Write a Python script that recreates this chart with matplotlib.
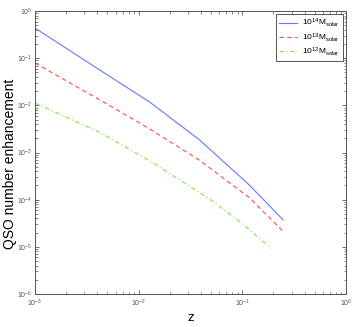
import numpy as np
import matplotlib
matplotlib.use('Agg')
import matplotlib.pyplot as plt
from matplotlib.ticker import LogLocator, NullFormatter

plt.rcParams['font.family'] = ['Liberation Sans', 'DejaVu Sans']
plt.rcParams['mathtext.fontset'] = 'custom'
plt.rcParams['mathtext.rm'] = 'Liberation Sans'
plt.rcParams['mathtext.it'] = 'Liberation Sans'

# values
z_14 = [1e-3, 3.94e-3, 1.276e-2, 3.86e-2, 0.1167, 0.248]
y_14 = [0.437, 0.0619, 0.0118, 1.86e-3, 2.06e-4, 3.73e-5]
z_13 = [1e-3, 4.41e-3, 1.276e-2, 3.86e-2, 0.1167, 0.243]
y_13 = [0.0791, 0.0124, 3.18e-3, 6.89e-4, 1.11e-4, 2.22e-5]
z_12 = [1e-3, 4.22e-3, 1.276e-2, 4.82e-2, 9.77e-2, 0.19]
y_12 = [0.01125, 2.67e-3, 6.68e-4, 1.04e-4, 3.24e-5, 9.3e-6]
labels = [r'$10^{14}$M$_{\rm solar}$', r'$10^{13}$M$_{\rm solar}$', r'$10^{12}$M$_{\rm solar}$']

fig = plt.figure(figsize=(3.54, 3.27), dpi=100)
ax = fig.add_axes([0.099, 0.101, 0.878, 0.865])

ax.loglog(z_14, y_14, '-', color='#6478ff', lw=0.8, label=labels[0])
ax.loglog(z_13, y_13, '--', color='#ff4b4b', lw=0.8, dashes=(4, 3), label=labels[1])
ax.loglog(z_12, y_12, '-.', color='#7ee83a', lw=0.8, dashes=(4, 2.5, 1, 2.5), label=labels[2])

ax.set_xlim(1e-3, 1)
ax.set_ylim(1e-6, 1)
ax.xaxis.set_major_locator(LogLocator(base=10, numticks=10))
ax.yaxis.set_major_locator(LogLocator(base=10, numticks=10))
ax.xaxis.set_minor_locator(LogLocator(base=10, subs=np.arange(2, 10), numticks=20))
ax.yaxis.set_minor_locator(LogLocator(base=10, subs=np.arange(2, 10), numticks=20))
ax.xaxis.set_minor_formatter(NullFormatter())
ax.yaxis.set_minor_formatter(NullFormatter())
ax.tick_params(which='both', direction='in', top=True, right=True, colors='#555555',
               labelsize=5)
ax.tick_params(which='major', length=3, width=0.6)
ax.tick_params(which='minor', length=1.8, width=0.5)
ax.tick_params(axis='x', pad=3)
ax.tick_params(axis='y', pad=2)
for s in ax.spines.values():
    s.set_color('#555555')
    s.set_linewidth(0.7)

ax.set_xlabel('z', fontsize=9.5, labelpad=2)
ax.set_ylabel('QSO number enhancement', fontsize=10)
ax.yaxis.set_label_coords(-0.058, 0.46)

leg = ax.legend(loc='upper right', fontsize=6, handlelength=2.2, borderpad=0.4,
                labelspacing=0.2, fancybox=False, framealpha=1, borderaxespad=0.3,
                handletextpad=0.6)
leg.get_frame().set_edgecolor('#555555')
leg.get_frame().set_linewidth(0.7)

fig.savefig('out.png', dpi=100)
